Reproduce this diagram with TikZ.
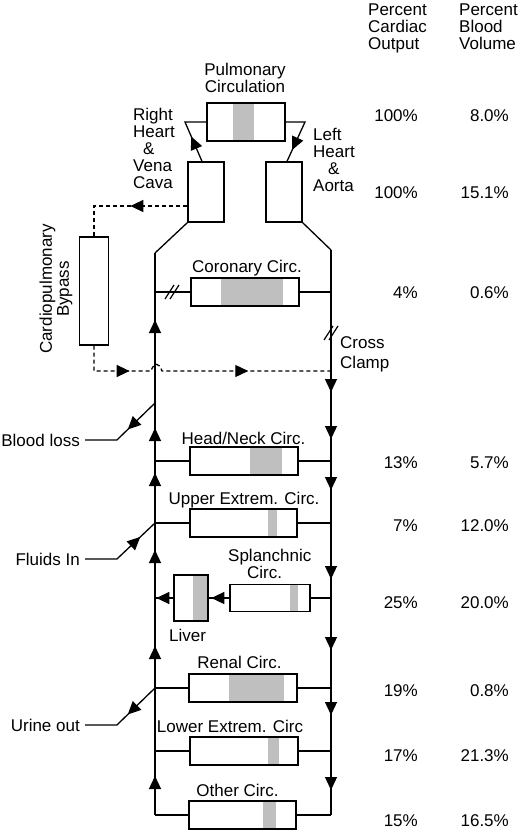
\documentclass[tikz,border=0pt]{standalone}
\usepackage{fontspec}
\setmainfont{Liberation Sans}
\usetikzlibrary{arrows.meta,calc,positioning,decorations.markings}

\tikzset{
  flow/.style={line width=1.3pt},
  organ/.style={draw, line width=1.3pt, inner sep=0pt},
  band/.style={fill=gray!50},
  txt/.style={inner sep=0pt, font=\fontsize{17pt}{17pt}\selectfont},
  side/.style={txt, inner xsep=5pt},
  bypass/.style={flow, dash pattern=on 4pt off 3pt},
  arrowat/.style={postaction={decorate, decoration={markings,
      mark=at position #1 with {\arrow{Triangle[length=13pt,width=12pt]}}}}},
  clamp/.pic={\draw[line width=1.2pt] (-7,6) -- (2,-8) (-2,6) -- (7,-8);}
}

\begin{document}
\begin{tikzpicture}[x=1pt, y=-1pt]
    \useasboundingbox (0,0) rectangle (520,833);

    % Column headers
    \node[txt, align=left, anchor=north west] (hco) at (368,4) {Percent\\Cardiac\\Output};
    \node[txt, align=left, anchor=north west] (hbv) at (459,4) {Percent\\Blood\\Volume};

    % Gray bands
    \fill[band] (233,103) rectangle (254,141);
    \fill[band] (221,278) rectangle (283,306);
    \fill[band] (250,447) rectangle (282,476);
    \fill[band] (268,509) rectangle (277,537);
    \fill[band] (290,585) rectangle (298,612);
    \fill[band] (193,575) rectangle (208,621);
    \fill[band] (229,674) rectangle (284,702);
    \fill[band] (268,737) rectangle (279,765);
    \fill[band] (263,801) rectangle (276,829);

    % Boxes
    \node[organ, minimum width=78, minimum height=38] (pulm) at (246,122) {};
    \node[organ, minimum width=36, minimum height=60] (rh) at (206,192) {};
    \node[organ, minimum width=36, minimum height=60] (lh) at (284,192) {};
    \node[organ, minimum width=29, minimum height=108] (byp) at (94,291) {};
    \node[organ, minimum width=108, minimum height=28] (cor) at (245,292) {};
    \node[organ, minimum width=108, minimum height=28] (head) at (244,461) {};
    \node[organ, minimum width=107, minimum height=28] (upper) at (243.5,523) {};
    \node[organ, minimum width=80, minimum height=27] (spl) at (270,598) {};
    \node[organ, minimum width=34, minimum height=46] (liver) at (191,598) {};
    \node[organ, minimum width=108, minimum height=28] (renal) at (243,688) {};
    \node[organ, minimum width=108, minimum height=28] (lower) at (244,751) {};
    \node[organ, minimum width=107, minimum height=28] (other) at (242.5,815) {};

    % Labels
    \node[txt, align=center, anchor=north] (lpulm) at (245,63) {Pulmonary\\Circulation};
    \node[txt, align=left, anchor=north west] (lrh) at (133,108) {Right\\Heart\\\hspace*{10pt}\&\\Vena\\Cava};
    \node[txt, align=left, anchor=north west] (llh) at (313,128) {Left\\Heart\\\hspace*{15pt}\&\\Aorta};
    \node[txt, align=center, rotate=90] (lbyp) at (56,289) {Cardiopulmonary\\Bypass};
    \node[txt, anchor=base] (lcor) at (247,272) {Coronary Circ.};
    \node[txt, align=left, anchor=north west, font=\fontsize{17pt}{20pt}\selectfont] (lclamp) at (340,336) {Cross\\Clamp};
    \node[txt, anchor=base] (lhead) at (243.5,444) {Head/Neck Circ.};
    \node[txt, anchor=base] (lupper) at (244,504) {Upper Extrem. Circ.};
    \node[txt, align=left, anchor=north west] (lspl) at (228,549) {Splanchnic\\\hspace*{19pt}Circ.};
    \node[txt, anchor=base] (lliver) at (187.5,641) {Liver};
    \node[txt, anchor=base] (lrenal) at (239.5,668) {Renal Circ.};
    \node[txt, anchor=base] (llower) at (230,732) {Lower Extrem. Circ};
    \node[txt, anchor=base] (lother) at (237.5,796) {Other Circ.};
    \node[side, anchor=base east] (loss) at (85,446) {Blood loss};
    \node[side, anchor=base east] (fluid) at (85,565) {Fluids In};
    \node[side, anchor=base east] (urine) at (85,731) {Urine out};

    % Percentages
    \foreach \y/\co/\bv in {121/100/8.0, 198/100/15.1, 298/4/0.6, 468/13/5.7, 531/7/12.0,
                            608/25/20.0, 696/19/0.8, 761/17/21.3, 826/15/16.5} {
        \node[txt, anchor=base east] (co\y) at (418,\y) {\co\%};
        \node[txt, anchor=base east] (bv\y) at (509,\y) {\bv\%};
    }

    % Heart and lungs
    \coordinate (rcorner) at (185,122);
    \coordinate (lcorner) at (305,122);
    \draw[flow, arrowat=27pt] ($(rh.north)+(-4,0)$) -- (rcorner) -- (pulm.west);
    \draw[flow, arrowat=50pt] (pulm.east) -- (lcorner) -- ($(lh.north)+(3,0)$);

    % Trunks
    \coordinate (ltop) at (155,253);
    \coordinate (lbot) at (155,815);
    \coordinate (rtop) at (331,250);
    \coordinate (rbot) at (331,815);
    \draw[flow] (rh.south west) -- (ltop);
    \draw[flow] (lh.south east) -- (rtop);
    \draw[flow, arrowat=39pt, arrowat=169pt, arrowat=265pt, arrowat=342pt,
          arrowat=387pt, arrowat=495pt] (lbot) -- (ltop);
    \draw[flow, arrowat=142pt, arrowat=189pt, arrowat=240pt, arrowat=329pt,
          arrowat=400pt, arrowat=465pt, arrowat=540pt] (rtop) -- (rbot);

    % Branches
    \foreach \b in {cor, head, upper, renal, lower} {
        \draw[flow] (ltop |- \b) -- (\b.west);
        \draw[flow] (\b.east) -- (rtop |- \b);
    }
    \draw[flow] (lbot) -- (other.west);
    \draw[flow] (other.east) -- (rbot);
    \draw[flow] (spl.east) -- (rtop |- spl);
    \draw[flow, arrowat=18pt] (spl.west) -- (liver.east);
    \draw[flow, arrowat=17pt] (liver.west) -- (ltop |- liver);
    \pic at (172,293) {clamp};
    \pic at (331,334) {clamp};

    % Bypass
    \coordinate (bypin) at (94,206);
    \coordinate (bypout) at (94,371);
    \coordinate (hopa) at (151,371);
    \coordinate (hopb) at (162,371);
    \draw[bypass, arrowat=57pt] (rh.west |- bypin) -- (bypin) -- (byp.north);
    \draw[bypass, arrowat=61pt, arrowat=187pt] (byp.south) -- (bypout) -- (hopa)
        .. controls (154,362) and (159,362) .. (hopb) -- (rtop |- bypout);

    % Losses and inputs
    \coordinate (lossj) at (155,403);
    \draw[flow, arrowat=38pt] (lossj) -- ($(loss.east)+(32,0)$) -- (loss.east);
    \draw[flow, arrowat=64pt] (fluid.east) -- ($(fluid.east)+(32,0)$) -- (ltop |- upper);
    \draw[flow, arrowat=38pt] (ltop |- renal) -- ($(urine.east)+(32,0)$) -- (urine.east);
\end{tikzpicture}
\end{document}
